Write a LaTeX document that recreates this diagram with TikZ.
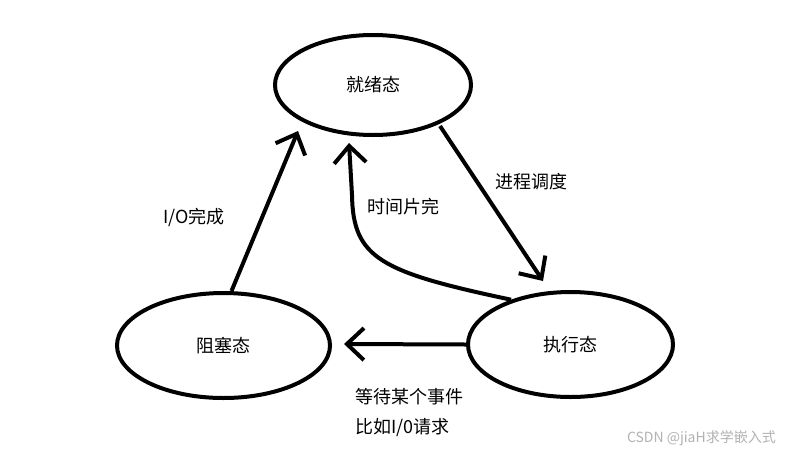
\documentclass[tikz,border=0pt]{standalone}
\usepackage{fontspec}
\setmainfont{Noto Sans CJK SC}
\usetikzlibrary{shapes.geometric,arrows.meta}
\begin{document}
\begin{tikzpicture}[x=1pt,y=-1pt,
  state/.style={ellipse,draw,line width=4pt,inner sep=0pt,font=\fontsize{18}{20}\selectfont},
  arr/.style={line width=4pt,-{Straight Barb[length=17pt,width=32pt,line width=4pt]}},
  lbl/.style={font=\fontsize{18}{20}\selectfont,inner sep=0pt},
  wmark/.style={font=\fontsize{14}{16}\selectfont,text=black!30,inner sep=0pt}]
\useasboundingbox (0,0) rectangle (786,453);
\fill[white] (0,0) rectangle (786,453);
\node[state,minimum width=196pt,minimum height=100pt] (ready) at (373,85) {就绪态};
\node[state,minimum width=213pt,minimum height=105pt] (block) at (223.5,345.5) {阻塞态};
\node[state,minimum width=205pt,minimum height=105pt] (run) at (570.5,344.5) {执行态};
\coordinate (t1) at (298,131);
\coordinate (t2) at (543,281);
\coordinate (t3) at (349,143);
\coordinate (t4) at (344,344);
\coordinate (s2) at (440,126);
\draw[arr] (block.north) ++(8,0) -- (t1);
\draw[arr] (s2) -- (t2);
\draw[arr] (run.143) .. controls (380,272) and (353,258) .. (352,195) -- (t3);
\draw[arr] (run.west) -- (t4);
\node[lbl] (l1) at (194,217) {I/O完成};
\node[lbl] (l2) at (403,207) {时间片完};
\node[lbl] (l3) at (531,182) {进程调度};
\node[lbl,anchor=west] (l4) at (355,397) {等待某个事件};
\node[lbl,anchor=west] (l5) at (355,428) {比如I/0请求};
\node[wmark,anchor=east] (wm) at (776,438) {CSDN @jiaH求学嵌入式};
\end{tikzpicture}
\end{document}
